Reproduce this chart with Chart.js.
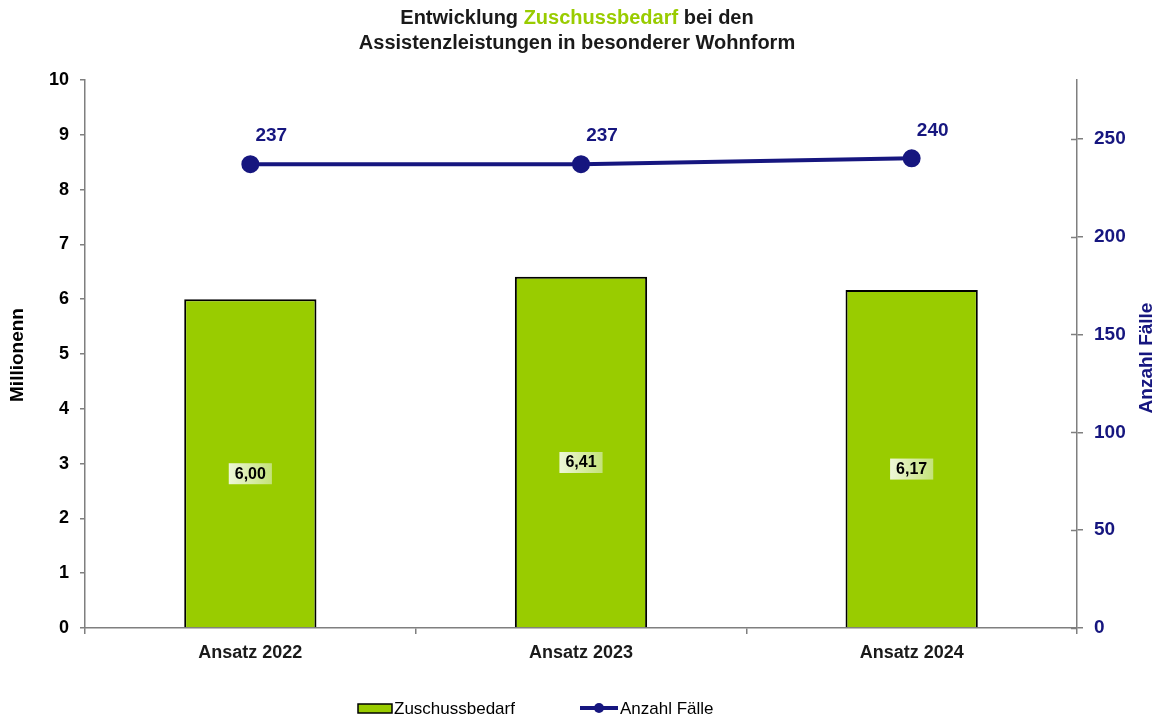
<!DOCTYPE html>
<html lang="de">
<head>
<meta charset="UTF-8">
<title>Entwicklung Zuschussbedarf</title>
<style>
    body { margin: 0; background: #fff; }
    #wrap { width: 1159px; height: 717px; }
</style>
</head>
<body>
<div id="wrap"><canvas id="chart" width="1159" height="717"></canvas></div>

<script src="https://cdn.jsdelivr.net/npm/chart.js"></script>
<script>
    // Daten
    const kategorien = ['Ansatz 2022', 'Ansatz 2023', 'Ansatz 2024'];
    const zuschussbedarf = [6.00, 6.41, 6.17];
    const anzahlFaelle = [237, 237, 240];
    const linksTicks = [0, 1, 2, 3, 4, 5, 6, 7, 8, 9, 10];
    const rechtsTicks = [0, 50, 100, 150, 200, 250];

    const FONT = "'Liberation Sans', Arial, sans-serif";
    const GRUEN = '#99cc00';
    const BLAU = '#16167f';
    const GRAU = '#7f7f7f';

    // Titel, Achsentitel, Beschriftungen und Legende
    const extras = {
        id: 'extras',
        afterDatasetsDraw(chart) {
            const ctx = chart.ctx;
            ctx.save();

            // Werte in den Balken
            chart.getDatasetMeta(1).data.forEach((bar, i) => {
                const txt = zuschussbedarf[i].toFixed(2).replace('.', ',');
                const y = (bar.y + bar.base) / 2 + 10;
                ctx.font = 'bold 16px ' + FONT;
                const w = ctx.measureText(txt).width + 12;
                const g = ctx.createLinearGradient(bar.x - w / 2, 0, bar.x + w / 2, 0);
                g.addColorStop(0, '#eef7d8');
                g.addColorStop(1, '#c4e27a');
                ctx.fillStyle = g;
                ctx.fillRect(bar.x - w / 2, y - 10, w, 21);
                ctx.fillStyle = '#000';
                ctx.textAlign = 'center';
                ctx.textBaseline = 'middle';
                ctx.fillText(txt, bar.x, y + 1);
            });

            // Werte an der Linie
            chart.getDatasetMeta(0).data.forEach((pt, i) => {
                ctx.font = 'bold 19px ' + FONT;
                ctx.fillStyle = BLAU;
                ctx.textAlign = 'center';
                ctx.textBaseline = 'middle';
                ctx.fillText(String(anzahlFaelle[i]), pt.x + 21, pt.y - 28);
            });

            // Querstriche rechte Achse (nach innen)
            const yR = chart.scales.y1;
            ctx.strokeStyle = GRAU;
            ctx.lineWidth = 1.5;
            rechtsTicks.forEach(v => {
                const py = Math.round(yR.getPixelForValue(v)) + 0.5;
                ctx.beginPath();
                ctx.moveTo(yR.left - 6, py);
                ctx.lineTo(yR.left, py);
                ctx.stroke();
            });
            ctx.restore();
        },
        afterDraw(chart) {
            const ctx = chart.ctx;
            ctx.save();
            ctx.textBaseline = 'middle';

            // Titel (mehrfarbig)
            ctx.font = 'bold 20px ' + FONT;
            const teile = [['Entwicklung ', '#1a1a1a'], ['Zuschussbedarf', GRUEN], [' bei den', '#1a1a1a']];
            const gesamt = teile.reduce((s, t) => s + ctx.measureText(t[0]).width, 0);
            let x = 577 - gesamt / 2;
            ctx.textAlign = 'left';
            teile.forEach(t => {
                ctx.fillStyle = t[1];
                ctx.fillText(t[0], x, 18);
                x += ctx.measureText(t[0]).width;
            });
            ctx.textAlign = 'center';
            ctx.fillStyle = '#1a1a1a';
            ctx.fillText('Assistenzleistungen in besonderer Wohnform', 577, 43);

            // Achsentitel
            ctx.font = 'bold 19px ' + FONT;
            ctx.save();
            ctx.translate(18, 355);
            ctx.rotate(-Math.PI / 2);
            ctx.fillStyle = '#000';
            ctx.fillText('Millionenn', 0, 0);
            ctx.restore();
            ctx.save();
            ctx.translate(1147, 358);
            ctx.rotate(-Math.PI / 2);
            ctx.fillStyle = BLAU;
            ctx.fillText('Anzahl Fälle', 0, 0);
            ctx.restore();

            // Legende
            const ly = 708;
            ctx.font = '17px ' + FONT;
            ctx.textAlign = 'left';
            ctx.fillStyle = GRUEN;
            ctx.strokeStyle = '#000';
            ctx.lineWidth = 1.5;
            ctx.fillRect(358, ly - 4, 34, 9);
            ctx.strokeRect(358, ly - 4, 34, 9);
            ctx.fillStyle = '#000';
            ctx.fillText('Zuschussbedarf', 394, ly + 1);

            ctx.strokeStyle = BLAU;
            ctx.lineWidth = 4;
            ctx.beginPath();
            ctx.moveTo(580, ly);
            ctx.lineTo(618, ly);
            ctx.stroke();
            ctx.fillStyle = BLAU;
            ctx.beginPath();
            ctx.arc(599, ly, 5, 0, Math.PI * 2);
            ctx.fill();
            ctx.fillStyle = '#000';
            ctx.fillText('Anzahl Fälle', 620, ly + 1);
            ctx.restore();
        }
    };

    new Chart(document.getElementById('chart'), {
        data: {
            labels: kategorien,
            datasets: [{
                type: 'line',
                label: 'Anzahl Fälle',
                data: anzahlFaelle,
                yAxisID: 'y1',
                borderColor: BLAU,
                backgroundColor: BLAU,
                borderWidth: 4,
                pointRadius: 7,
                pointHoverRadius: 7,
                order: 0
            }, {
                type: 'bar',
                label: 'Zuschussbedarf',
                data: zuschussbedarf,
                yAxisID: 'y',
                backgroundColor: GRUEN,
                borderColor: '#000',
                borderWidth: 2,
                categoryPercentage: 1,
                barPercentage: 0.4,
                order: 1
            }]
        },
        options: {
            responsive: false,
            animation: false,
            layout: { padding: { top: 80, left: 0, right: 0, bottom: 0 } },
            plugins: {
                legend: { display: false },
                title: { display: false },
                tooltip: { enabled: false }
            },
            scales: {
                x: {
                    afterFit: s => { s.height = 89; },
                    grid: { drawOnChartArea: false, drawTicks: true, tickLength: 6, color: GRAU, lineWidth: 1.5, offset: true },
                    border: { color: GRAU, width: 1.5 },
                    ticks: { color: '#1a1a1a', padding: 8, font: { family: FONT, size: 18, weight: 'bold' } }
                },
                y: {
                    position: 'left',
                    min: 0,
                    max: 10,
                    afterFit: s => { s.width = 85; },
                    afterBuildTicks: s => { s.ticks = linksTicks.map(v => ({ value: v })); },
                    grid: { drawOnChartArea: false, drawTicks: true, tickLength: 5, color: GRAU, lineWidth: 1.5 },
                    border: { color: GRAU, width: 1.5 },
                    ticks: { color: '#000', padding: 11, font: { family: FONT, size: 18, weight: 'bold' } }
                },
                y1: {
                    position: 'right',
                    min: 0,
                    max: 280,
                    afterFit: s => { s.width = 82; },
                    afterBuildTicks: s => { s.ticks = rechtsTicks.map(v => ({ value: v })); },
                    grid: { drawOnChartArea: false, drawTicks: true, tickLength: 6, color: GRAU, lineWidth: 1.5 },
                    border: { color: GRAU, width: 1.5 },
                    ticks: { color: BLAU, padding: 11, font: { family: FONT, size: 19, weight: 'bold' } }
                }
            }
        },
        plugins: [extras]
    });
</script>
</body>
</html>
